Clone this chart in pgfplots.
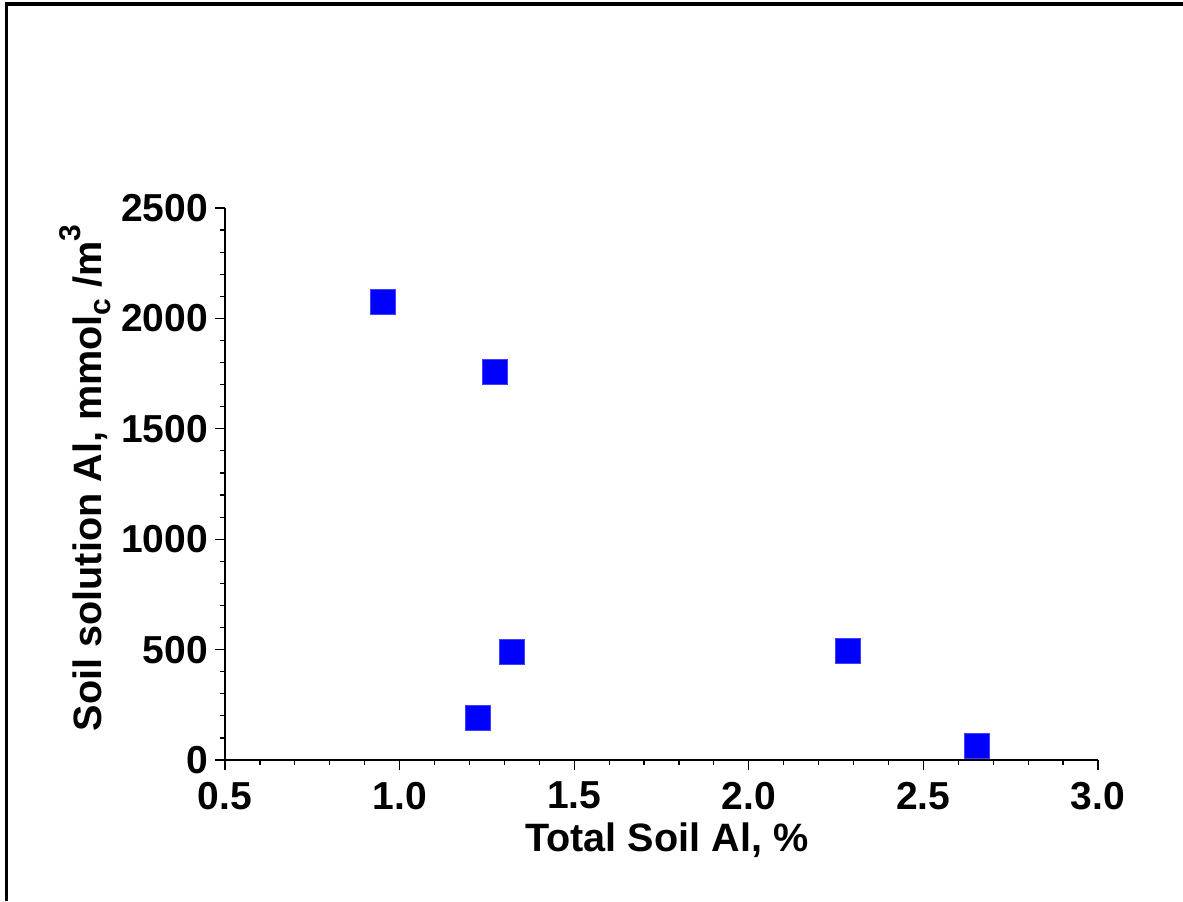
\documentclass[border=0pt]{standalone}
\usepackage{pgfplots}
\pgfplotsset{compat=1.18}
\usepackage{fontspec}
\setmainfont{Liberation Sans}
\begin{document}
\begin{tikzpicture}
\useasboundingbox (0,0) rectangle (591.5pt,450.5pt);
\fill[white] (0,0) rectangle (591.5pt,450.5pt);
\draw[line width=1.9pt] (3.2pt,0) -- (3.2pt,448.3pt) -- (591.5pt,448.3pt);
\begin{axis}[
  at={(112.5pt,70.5pt)}, anchor=south west,
  scale only axis, width=436.5pt, height=276pt,
  xmin=0.5, xmax=3.0, ymin=0, ymax=2500,
  axis x line*=bottom, axis y line*=left,
  axis line style={line width=1pt},
  xtick={0.5,1.0,1.5,2.0,2.5,3.0},
  ytick={0,500,1000,1500,2000,2500},
  minor x tick num=4, minor y tick num=4,
  tick align=outside,
  major tick length=5pt, minor tick length=2.5pt,
  every tick/.style={black, line width=0.6pt},
  xticklabel style={yshift=-2.5pt, /pgf/number format/.cd, fixed, fixed zerofill, precision=1},
  /pgf/number format/assume math mode=true,
  yticklabel style={/pgf/number format/.cd, fixed, set thousands separator={}},
  ticklabel style={font=\fontsize{19.5}{22}\selectfont\bfseries},
  label style={font=\fontsize{19.8}{22}\selectfont\bfseries},
  xlabel={Total Soil Al, \%},
  ylabel={Soil solution Al, mmol\raisebox{-0.45ex}{\fontsize{15}{15}\selectfont c} /m\raisebox{1.0ex}{\fontsize{15}{15}\selectfont 3}},
  xlabel style={at={(axis description cs:0.506,-0.145)}, anchor=center},
  ylabel style={at={(axis description cs:-0.16,0.511)}, anchor=center},
  clip=false,
]
\addplot[only marks, mark=square*, mark size=6.25pt,
  mark options={fill=blue, draw=blue!75!white, line width=0.5pt}]
  coordinates {
  (0.952,2074)
  (1.273,1757)
  (1.322,489)
  (1.224,190)
  (2.284,494)
  (2.653,63)
  };
\end{axis}
\end{tikzpicture}
\end{document}
